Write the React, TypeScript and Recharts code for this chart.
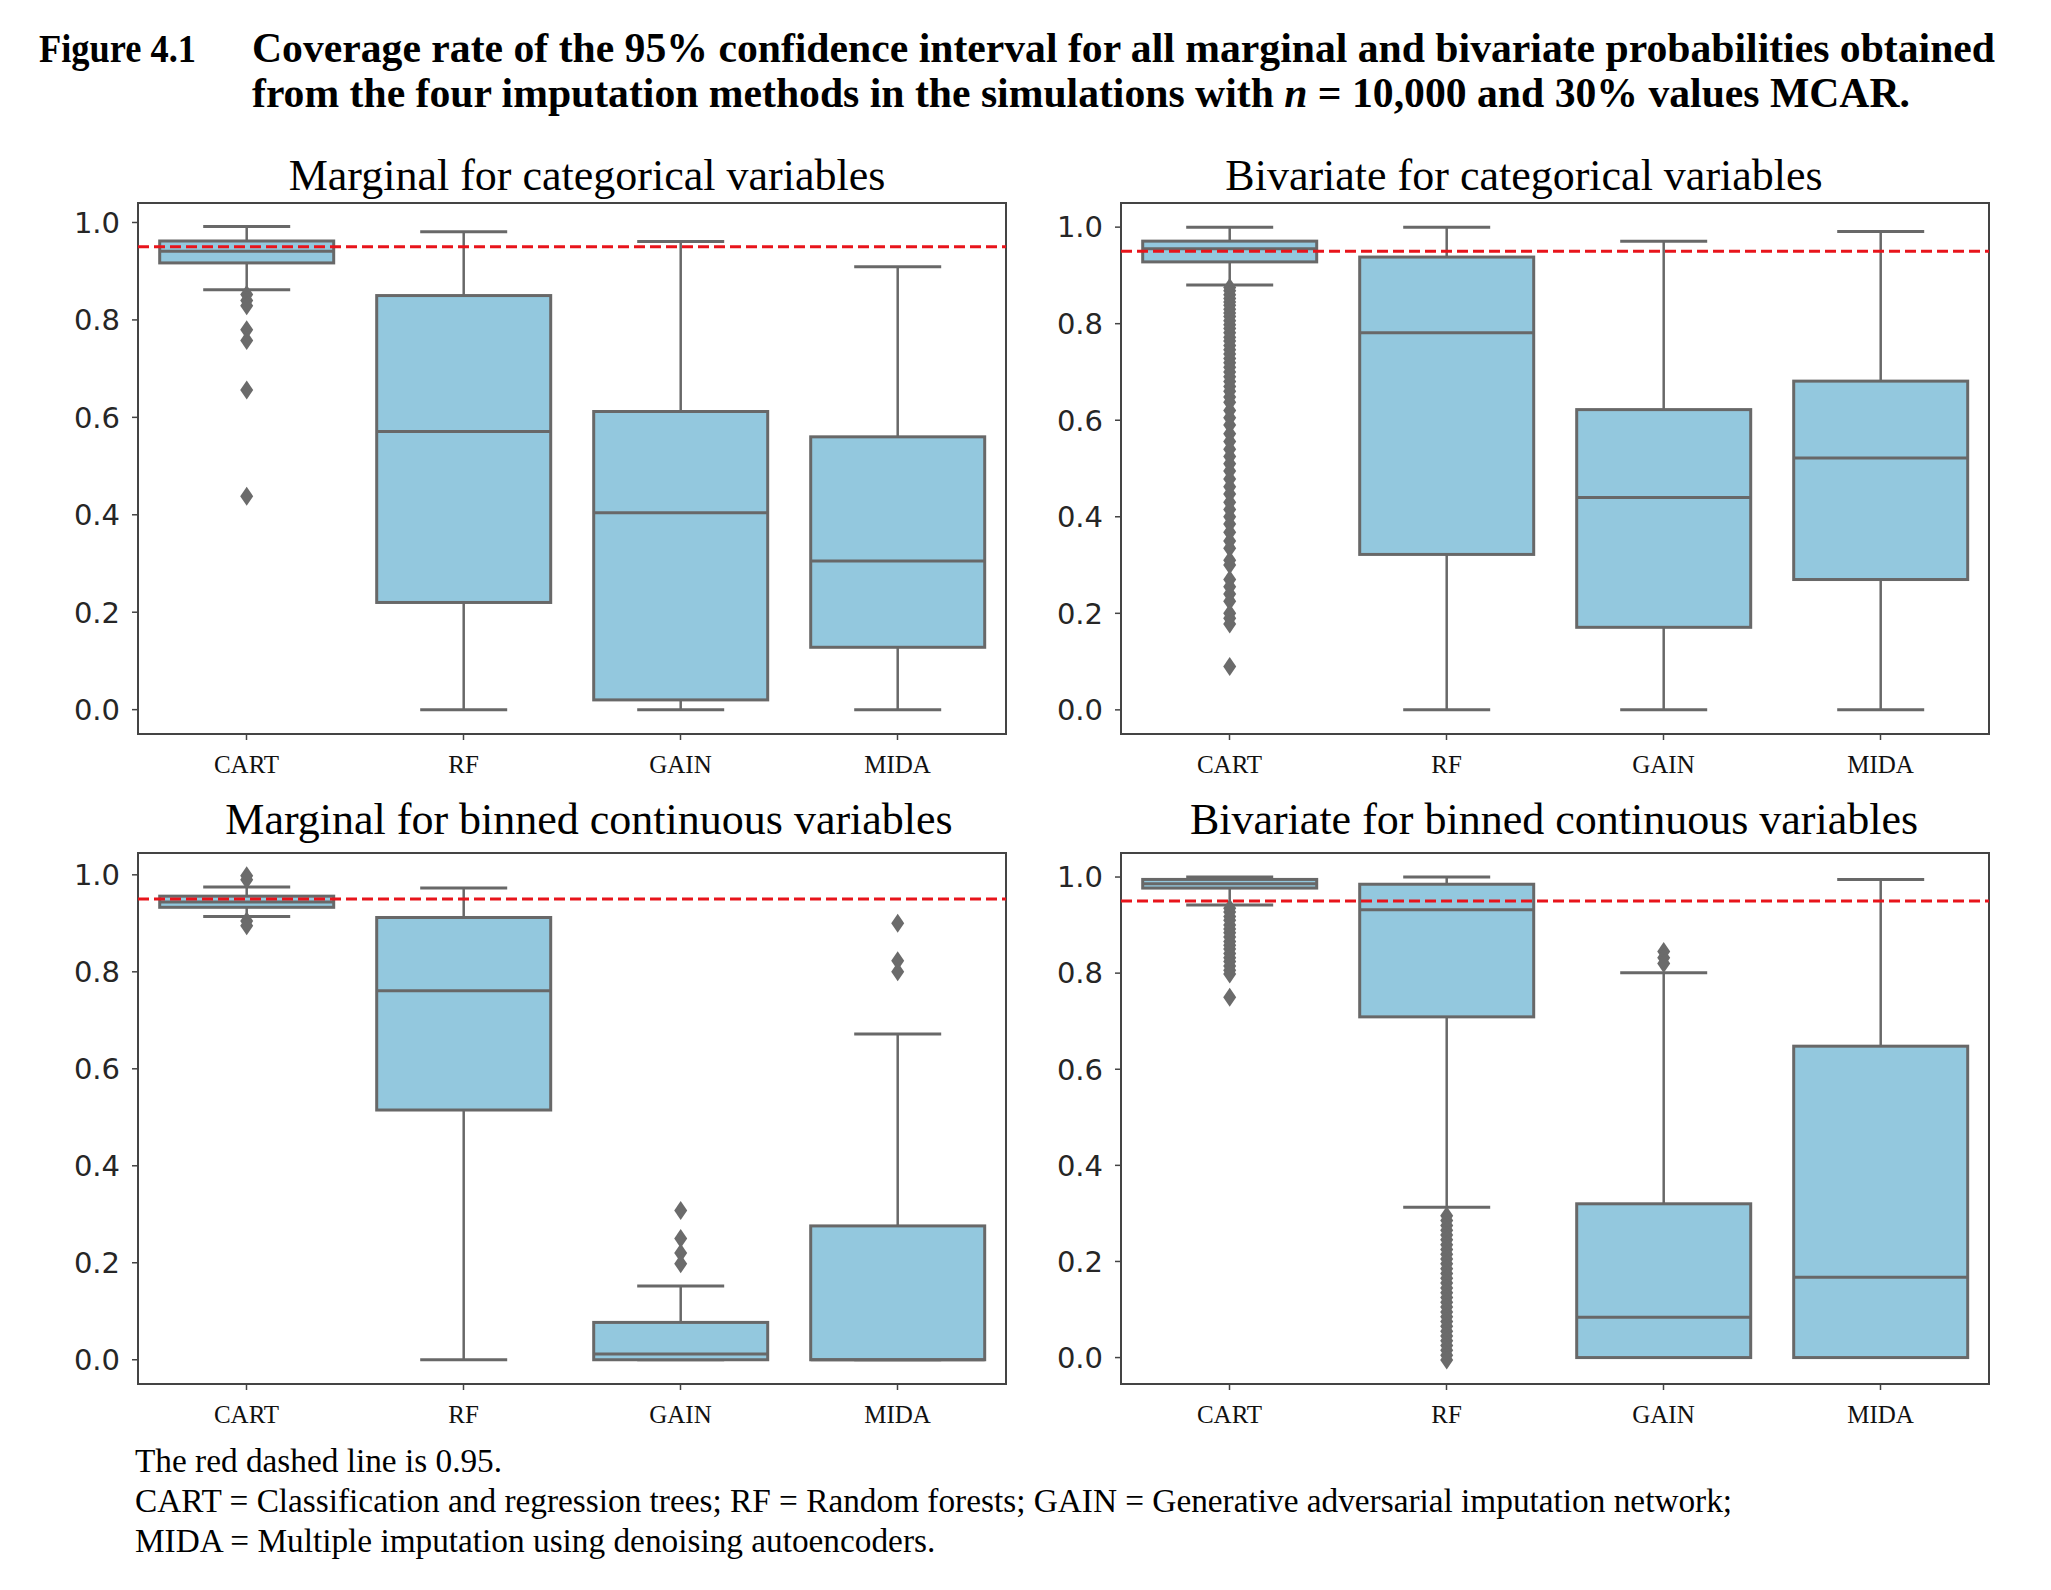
import { ComposedChart, Bar, XAxis, YAxis, ReferenceLine, ReferenceArea } from 'recharts';

const methods = ['CART', 'RF', 'GAIN', 'MIDA'];
const yTicks = [0, 0.2, 0.4, 0.6, 0.8, 1.0];

// Marginal for categorical variables
const mcLow = [0.862, 0.0, 0.0, 0.0];
const mcQ1 = [0.917, 0.22, 0.02, 0.128];
const mcMed = [0.941, 0.571, 0.404, 0.305];
const mcQ3 = [0.962, 0.85, 0.612, 0.56];
const mcHigh = [0.992, 0.981, 0.961, 0.909];
const mcOutliers = [[0.852, 0.84, 0.829, 0.78, 0.758, 0.656, 0.438], [], [], []];

// Bivariate for categorical variables
const bcLow = [0.88, 0.0, 0.0, 0.0];
const bcQ1 = [0.928, 0.322, 0.171, 0.27];
const bcMed = [0.955, 0.781, 0.44, 0.522];
const bcQ3 = [0.971, 0.938, 0.622, 0.681];
const bcHigh = [1.0, 1.0, 0.971, 0.991];
const bcOutliers = [
  [0.875, 0.868, 0.86, 0.852, 0.845, 0.838, 0.83, 0.822, 0.815, 0.806, 0.798, 0.79, 0.781, 0.772, 0.764,
    0.755, 0.746, 0.737, 0.728, 0.719, 0.71, 0.7, 0.69, 0.68, 0.67, 0.66, 0.648, 0.637, 0.62, 0.605, 0.59,
    0.572, 0.556, 0.54, 0.525, 0.51, 0.495, 0.478, 0.462, 0.447, 0.43, 0.415, 0.4, 0.385, 0.368, 0.35,
    0.335, 0.31, 0.3, 0.27, 0.255, 0.24, 0.225, 0.2, 0.19, 0.178, 0.09],
  [], [], [],
];

// Marginal for binned continuous variables
const mbLow = [0.914, 0.0, 0.0, 0.0];
const mbQ1 = [0.933, 0.515, 0.0, 0.0];
const mbMed = [0.944, 0.761, 0.012, 0.0];
const mbQ3 = [0.956, 0.912, 0.077, 0.276];
const mbHigh = [0.975, 0.973, 0.152, 0.672];
const mbOutliers = [[0.998, 0.99, 0.905, 0.895], [], [0.308, 0.25, 0.22, 0.198], [0.9, 0.823, 0.8]];

// Bivariate for binned continuous variables
const bbLow = [0.942, 0.313, 0.0, 0.0];
const bbQ1 = [0.977, 0.709, 0.0, 0.0];
const bbMed = [0.986, 0.932, 0.084, 0.167];
const bbQ3 = [0.995, 0.985, 0.32, 0.648];
const bbHigh = [1.0, 1.0, 0.801, 0.995];
const bbOutliers = [
  [0.935, 0.927, 0.918, 0.91, 0.9, 0.892, 0.884, 0.875, 0.866, 0.858, 0.85, 0.841, 0.832, 0.824, 0.815,
    0.806, 0.798, 0.75],
  [0.295, 0.285, 0.275, 0.265, 0.255, 0.245, 0.235, 0.225, 0.215, 0.205, 0.195, 0.185, 0.175, 0.165, 0.155,
    0.145, 0.135, 0.125, 0.115, 0.105, 0.095, 0.085, 0.075, 0.065, 0.055, 0.045, 0.035, 0.025, 0.015, 0.005,
    -0.005],
  [0.845, 0.832, 0.82],
  [],
];

const FILL = '#93c8de';
const EDGE = '#686868';
const FRAME = '#444';

const buildRows = (lo, q1, med, q3, hi, out) =>
  methods.map((name, i) => ({
    name,
    range: [lo[i], hi[i]],
    lo: lo[i], q1: q1[i], med: med[i], q3: q3[i], hi: hi[i],
    out: out[i],
  }));

const BoxShape = (props) => {
  const { x, y, width, height, payload } = props;
  if (x == null || !payload) return null;
  const top = Math.min(y, y + height);
  const h = Math.abs(height);
  const k = h / (payload.hi - payload.lo);
  const Y = (v) => top + h - (v - payload.lo) * k;
  const cx = x + width / 2;
  const capW = width / 4;
  return (
    <g>
      <line x1={cx} x2={cx} y1={Y(payload.q3)} y2={Y(payload.hi)} stroke={EDGE} strokeWidth={2.5} />
      <line x1={cx} x2={cx} y1={Y(payload.q1)} y2={Y(payload.lo)} stroke={EDGE} strokeWidth={2.5} />
      <line x1={cx - capW} x2={cx + capW} y1={Y(payload.hi)} y2={Y(payload.hi)} stroke={EDGE} strokeWidth={3} />
      <line x1={cx - capW} x2={cx + capW} y1={Y(payload.lo)} y2={Y(payload.lo)} stroke={EDGE} strokeWidth={3} />
      <rect x={x} y={Y(payload.q3)} width={width} height={Y(payload.q1) - Y(payload.q3)}
        fill={FILL} stroke={EDGE} strokeWidth={3} />
      <line x1={x} x2={x + width} y1={Y(payload.med)} y2={Y(payload.med)} stroke={EDGE} strokeWidth={3} />
      {payload.out.map((v, i) => {
        const py = Y(v);
        return (
          <path key={i} d={`M${cx},${py - 9.5} L${cx + 6.5},${py} L${cx},${py + 9.5} L${cx - 6.5},${py} Z`} fill="#6b6b6b" />
        );
      })}
    </g>
  );
};

const Panel = ({ rows, domain, left, top }) => (
  <div style={{ position: 'absolute', left: left - 100, top: top - 10 }}>
    <ComposedChart width={978} height={611} data={rows} margin={{ top: 10, right: 10, bottom: 0, left: 0 }}
      barCategoryGap="10%">
      <XAxis dataKey="name" type="category" height={70} axisLine={false} tickSize={6} tickMargin={15}
        tickLine={{ stroke: FRAME, strokeWidth: 1.5 }}
        tick={{ fontFamily: 'Liberation Serif', fontSize: 25, fill: '#111' }} />
      <YAxis type="number" domain={domain} allowDataOverflow ticks={yTicks} width={100} axisLine={false}
        tickSize={6} tickMargin={12} tickLine={{ stroke: FRAME, strokeWidth: 1.5 }}
        tickFormatter={(v) => v.toFixed(1)}
        tick={{ fontFamily: 'DejaVu Sans', fontSize: 29, fill: '#262626' }} />
      <ReferenceArea y1={domain[0]} y2={domain[1]} fill="none" stroke={FRAME} strokeWidth={2}
        ifOverflow="visible" />
      <Bar dataKey="range" shape={BoxShape} isAnimationActive={false} />
      <ReferenceLine y={0.95} stroke="#e8141b" strokeWidth={3} strokeDasharray="11 5" />
    </ComposedChart>
  </div>
);

const serif = 'Liberation Serif, Times New Roman, serif';

export default function App() {
  return (
    <div style={{ position: 'absolute', left: 0, top: 0, width: 2051, height: 1590, background: '#fff' }}>
      <svg width={2051} height={1590} style={{ position: 'absolute', left: 0, top: 0 }}>
        <g fontFamily={serif} fill="#000">
          <text x={39} y={62} fontSize={41} fontWeight="bold" textLength={157} lengthAdjust="spacingAndGlyphs">Figure 4.1</text>
          <text x={252} y={62} fontSize={41.5} fontWeight="bold" textLength={1743} lengthAdjust="spacingAndGlyphs">
            Coverage rate of the 95% confidence interval for all marginal and bivariate probabilities obtained
          </text>
          <text x={252} y={107} fontSize={41.5} fontWeight="bold" textLength={1658} lengthAdjust="spacingAndGlyphs">
            from the four imputation methods in the simulations with <tspan fontStyle="italic">n</tspan> = 10,000 and 30% values MCAR.
          </text>
          <text x={587} y={190} fontSize={44} textAnchor="middle">Marginal for categorical variables</text>
          <text x={1524} y={190} fontSize={44} textAnchor="middle">Bivariate for categorical variables</text>
          <text x={589} y={834} fontSize={44} textAnchor="middle">Marginal for binned continuous variables</text>
          <text x={1554} y={834} fontSize={44} textAnchor="middle">Bivariate for binned continuous variables</text>
          <text x={135} y={1472} fontSize={33.3}>The red dashed line is 0.95.</text>
          <text x={135} y={1512} fontSize={33.3}>
            CART = Classification and regression trees; RF = Random forests; GAIN = Generative adversarial imputation network;
          </text>
          <text x={135} y={1552} fontSize={33.3}>MIDA = Multiple imputation using denoising autoencoders.</text>
        </g>
      </svg>
      <Panel rows={buildRows(mcLow, mcQ1, mcMed, mcQ3, mcHigh, mcOutliers)} domain={[-0.05, 1.04]} left={138} top={203} />
      <Panel rows={buildRows(bcLow, bcQ1, bcMed, bcQ3, bcHigh, bcOutliers)} domain={[-0.05, 1.05]} left={1121} top={203} />
      <Panel rows={buildRows(mbLow, mbQ1, mbMed, mbQ3, mbHigh, mbOutliers)} domain={[-0.05, 1.045]} left={138} top={853} />
      <Panel rows={buildRows(bbLow, bbQ1, bbMed, bbQ3, bbHigh, bbOutliers)} domain={[-0.055, 1.05]} left={1121} top={853} />
    </div>
  );
}
